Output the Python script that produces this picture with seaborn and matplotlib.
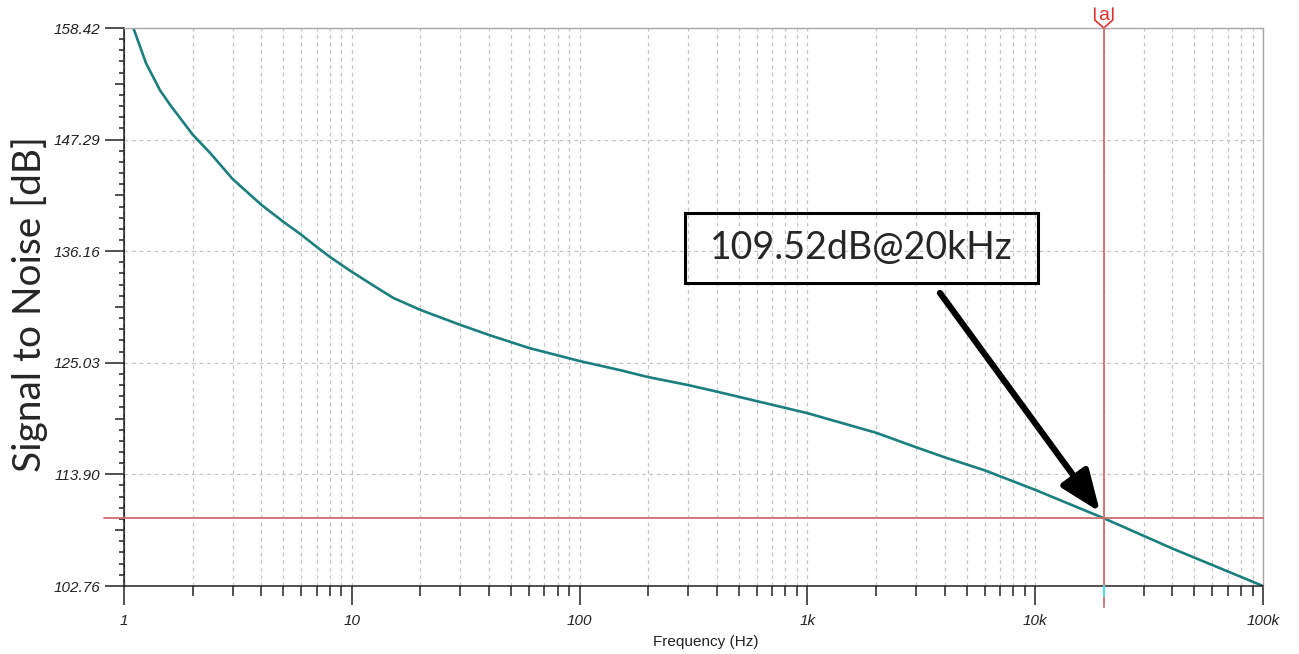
import numpy as np
import seaborn as sns
import matplotlib.pyplot as plt
from matplotlib.patches import Rectangle
from matplotlib.ticker import LogLocator, NullFormatter, FixedLocator

# curve
freq = [1.0, 1.1, 1.25, 1.44, 1.6, 2.0, 2.4, 3.0, 4.0, 5.0, 6.0, 7.0, 8.0, 9.0, 10,
        12.4, 15.2, 20, 30, 40, 60, 100, 150, 200, 300, 400, 600, 1000, 2000, 3000,
        4000, 6000, 10000, 20000, 40000, 100000]
snr = [161.3, 158.4, 154.9, 152.2, 150.7, 147.8, 145.9, 143.35, 140.8, 139.1, 137.8,
       136.6, 135.6, 134.8, 134.1, 132.75, 131.5, 130.3, 128.8, 127.8, 126.5, 125.2,
       124.3, 123.6, 122.8, 122.15, 121.2, 120.0, 118.05, 116.6, 115.6, 114.3, 112.35,
       109.52, 106.5, 102.76]

x_ticks = [1, 10, 100, 1000, 10000, 100000]
x_labels = ['1', '10', '100', '1k', '10k', '100k']
y_ticks = [102.76, 113.90, 125.03, 136.16, 147.29, 158.42]
y_labels = ['102.76', '113.90', '125.03', '136.16', '147.29', '158.42']

cursor_f = 20000
cursor_db = 109.52
note = '109.52dB@20kHz'

sns.set_style('white')
plt.rcParams['font.family'] = ['Liberation Sans', 'DejaVu Sans']

fig = plt.figure(figsize=(12.99, 6.54), dpi=100)
ax = fig.add_axes([124 / 1299, 68 / 654, 1139 / 1299, 558 / 654])

sns.lineplot(x=freq, y=snr, ax=ax, color='#1b7f7f', lw=1.9, sort=False)
ax.set_xscale('log')
ax.set_xlim(1, 100000)
ax.set_ylim(102.76, 158.42)

# ticks
ax.set_xticks(x_ticks)
ax.set_xticklabels(x_labels, fontstyle='italic', fontsize=11, color='#222222')
ax.xaxis.set_minor_locator(LogLocator(base=10, subs=np.arange(2, 10)))
ax.xaxis.set_minor_formatter(NullFormatter())
ax.set_yticks(y_ticks)
ax.set_yticklabels(y_labels, fontstyle='italic', fontsize=11, color='#222222')
minor_y = []
mid_y = []
for a, b in zip(y_ticks[:-1], y_ticks[1:]):
    step = (b - a) / 10
    minor_y += [a + i * step for i in range(1, 10) if i != 5]
    mid_y.append(a + 5 * step)
ax.yaxis.set_minor_locator(FixedLocator(minor_y))

ax.tick_params(axis='x', which='major', direction='out', length=14, width=1.1, pad=6,
               bottom=True, color='#222222')
ax.tick_params(axis='x', which='minor', direction='out', length=7, width=1.1,
               bottom=True, color='#222222')
ax.tick_params(axis='y', which='major', direction='out', length=14, width=1.1, pad=3,
               left=True, color='#222222')
ax.tick_params(axis='y', which='minor', direction='out', length=3.6, width=1.1,
               left=True, color='#222222')

sec = ax.secondary_yaxis('left')
sec.set_yticks(mid_y)
sec.tick_params(axis='y', direction='out', length=6.5, width=1.1, labelleft=False,
                color='#222222')
sec.yaxis.set_minor_locator(FixedLocator([]))
sec.spines['left'].set_color('#222222')

# grid
ax.grid(True, which='both', axis='x', color='#c4c4c4', ls=(0, (3, 3)), lw=0.9)
ax.grid(True, which='major', axis='y', color='#c4c4c4', ls=(0, (3, 3)), lw=0.9)

for s in ['left', 'bottom']:
    ax.spines[s].set_color('#222222')
    ax.spines[s].set_linewidth(1.1)
for s in ['top', 'right']:
    ax.spines[s].set_color('#a8a8a8')
    ax.spines[s].set_linewidth(1.0)

# cursor lines
red = '#cc6e6e'
ax.plot([-20 / 1139, 1.0], [cursor_db, cursor_db], color=red, lw=1.3,
        transform=ax.get_yaxis_transform(), clip_on=False, zorder=3)
ax.plot([cursor_f, cursor_f], [-0.038, 1.0], color=red, lw=1.3,
        transform=ax.get_xaxis_transform(), clip_on=False, zorder=3)
ax.plot([cursor_f, cursor_f], [0, -0.018], color='#5fd8e8', lw=1.6,
        transform=ax.get_xaxis_transform(), clip_on=False, zorder=4)

# cursor marker "a" at top
xa = np.log10(cursor_f) / 5
dx = 9 / 1139
ax.plot([xa - dx, xa - dx, xa, xa + dx, xa + dx],
        [1 + 20 / 558, 1 + 8 / 558, 1.0, 1 + 8 / 558, 1 + 20 / 558],
        color='#e03030', lw=1.2, transform=ax.transAxes, clip_on=False)
ax.text(xa, 1 + 13 / 558, 'a', color='#e03030', fontsize=14, ha='center', va='center',
        transform=ax.transAxes)

# annotation box and arrow
ax.add_patch(Rectangle((290.2, 132.98), 10287 - 290.2, 139.97 - 132.98, fill=False,
                       ec='black', lw=2.2, zorder=5))
ax.text(1718, 136.45, note, fontsize=27, family=['Lato', 'DejaVu Sans'],
        ha='center', va='center', zorder=5)
ax.annotate('', xy=(19260, 110.14), xytext=(3820, 131.99),
            arrowprops=dict(arrowstyle='-|>,head_length=1.0,head_width=0.4', lw=4.5,
                            color='black', shrinkA=0, shrinkB=0, mutation_scale=25),
            zorder=6)

fig.text(30 / 1299, 1 - 304 / 654, 'Signal to Noise [dB]', rotation=90, fontsize=28,
         family=['Lato', 'DejaVu Sans'], ha='center', va='center')
fig.text(706 / 1299, 1 - 642 / 654, 'Frequency (Hz)', fontsize=11, ha='center',
         va='center', color='#222222')

fig.savefig('out.png', dpi=100, facecolor='white')
